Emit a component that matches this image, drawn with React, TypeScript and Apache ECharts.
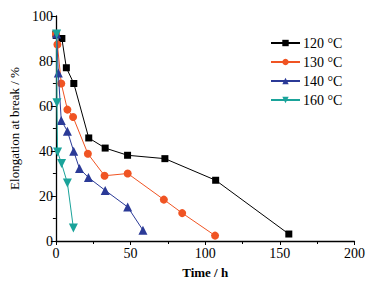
import React, { useEffect, useRef } from "react";
import * as echarts from "echarts";

const seriesNames = ["120 °C", "130 °C", "140 °C", "160 °C"];
const t120 = [0, 4, 7, 12, 22, 33, 48, 73, 107, 156];
const e120 = [92, 90, 77, 70, 45.8, 41.3, 38.1, 36.6, 27, 3.1];
const t130 = [0, 1, 3.6, 7.7, 11.5, 21.4, 32.6, 48.1, 72.3, 84.6, 106.6];
const e130 = [92, 87.3, 70, 58.4, 55.1, 38.8, 29, 30, 18.4, 12.4, 2.4];
const t140 = [0.5, 1.6, 3.6, 7.7, 11.9, 15.8, 21.8, 33, 48.1, 58.3];
const e140 = [92, 74.7, 53.6, 48.8, 39.9, 32.2, 28.2, 22.5, 15.1, 4.8];
const t160 = [0.5, 0.7, 1.1, 3.8, 7.7, 11.7];
const e160 = [92, 61.5, 39.6, 34.4, 25.8, 5.8];
const xTicks = [0, 50, 100, 150, 200];
const yTicks = [0, 20, 40, 60, 80, 100];

const colors = ["#000000", "#f05423", "#2b3a97", "#1aa39a"];
const symbols = ["rect", "circle", "triangle", "path://M0,0 L10,0 L5,9 Z"];
const symbolSizes = [7, 8, 9, 9];

const pairs = (xs: number[], ys: number[]) => xs.map((x, i) => [x, ys[i]]);

export default function App() {
  const ref = useRef<HTMLDivElement>(null);
  useEffect(() => {
    document.body.style.margin = "0";
    const chart = echarts.init(ref.current!, null, { renderer: "svg" });
    const font = "Liberation Serif";
    const data = [pairs(t120, e120), pairs(t130, e130), pairs(t140, e140), pairs(t160, e160)];
    chart.setOption({
      animation: false,
      textStyle: { fontFamily: font },
      grid: { left: 48, right: 13, top: 16, bottom: 44, containLabel: false },
      legend: {
        orient: "vertical",
        left: 270,
        top: 36,
        padding: 0,
        itemWidth: 29,
        itemHeight: 8,
        itemGap: 5,
        data: seriesNames,
        textStyle: { fontFamily: font, fontSize: 14, color: "#000", padding: [0, 0, 0, -2] },
      },
      xAxis: {
        type: "value",
        min: xTicks[0],
        max: xTicks[xTicks.length - 1],
        interval: 50,
        name: "Time / h",
        nameLocation: "middle",
        nameGap: 25,
        nameTextStyle: { fontFamily: font, fontSize: 13, color: "#000", fontWeight: "bold" },
        axisLine: { show: true, lineStyle: { color: "#000", width: 1.3 } },
        axisTick: { show: true, length: 4, inside: false, lineStyle: { color: "#000" } },
        minorTick: { show: true, splitNumber: 2, length: 3, lineStyle: { color: "#000" } },
        axisLabel: { fontFamily: font, fontSize: 14, color: "#000", margin: 5 },
        splitLine: { show: false },
      },
      yAxis: {
        type: "value",
        min: yTicks[0],
        max: yTicks[yTicks.length - 1],
        interval: 20,
        name: "Elongation at break / %",
        nameLocation: "middle",
        nameGap: 30,
        nameTextStyle: { fontFamily: font, fontSize: 13, color: "#000" },
        axisLine: { show: true, lineStyle: { color: "#000", width: 1.3 } },
        axisTick: { show: true, length: 5, inside: false, lineStyle: { color: "#000" } },
        minorTick: { show: true, splitNumber: 2, length: 3, lineStyle: { color: "#000" } },
        axisLabel: { fontFamily: font, fontSize: 14, color: "#000", margin: 3 },
        splitLine: { show: false },
      },
      series: seriesNames.map((name, i) => ({
        name,
        type: "line",
        data: data[i],
        symbol: symbols[i],
        symbolSize: symbolSizes[i],
        showSymbol: true,
        itemStyle: { color: colors[i] },
        lineStyle: { color: colors[i], width: 1 },
        z: 2 + i,
      })),
    });
    return () => chart.dispose();
  }, []);
  return <div ref={ref} style={{ width: 368, height: 285 }} />;
}
